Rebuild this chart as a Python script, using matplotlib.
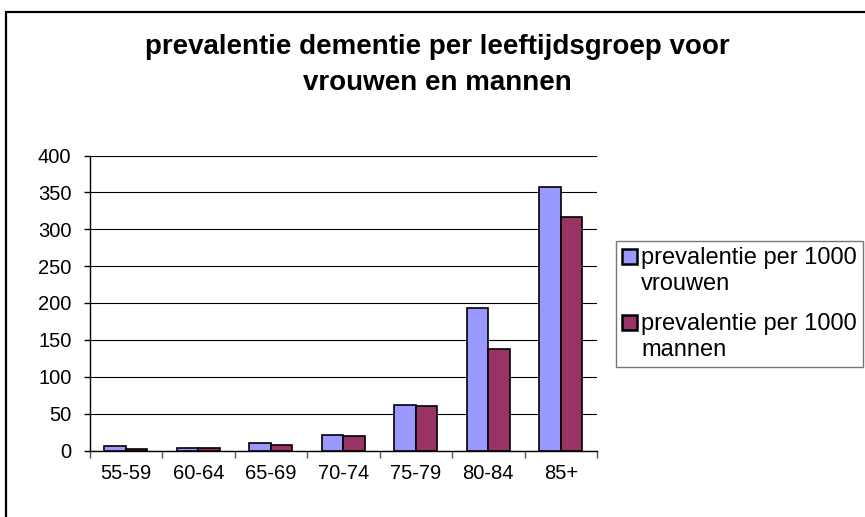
import matplotlib
matplotlib.use("Agg")
import matplotlib.pyplot as plt
import numpy as np
from matplotlib.patches import Rectangle
from matplotlib.container import BarContainer
from matplotlib.legend_handler import HandlerPatch, update_from_first_child

categories = ["55-59", "60-64", "65-69", "70-74", "75-79", "80-84", "85+"]
vrouwen = [6, 4, 10, 21, 62, 193, 357]
mannen = [2, 4, 8, 20, 60, 138, 316]
yticks = [0, 50, 100, 150, 200, 250, 300, 350, 400]

plt.rcParams['font.family'] = ['Liberation Sans', 'DejaVu Sans']

W, H = 865, 517
fig = plt.figure(figsize=(W/100, H/100), dpi=100)
fig.patches.append(Rectangle((6/W, -0.1), 1, 1.1 - 12/H, transform=fig.transFigure,
                             fill=False, edgecolor='black', linewidth=1.6, zorder=0))

ax = fig.add_axes([89.5/W, 1 - 450.5/H, (597-89.5)/W, (450.5-155.5)/H])
x = np.arange(len(categories))
bw = 0.295
ax.bar(x - bw/2, vrouwen, bw, color='#9999FF', edgecolor='black', linewidth=1.2,
       label='prevalentie per 1000\nvrouwen', zorder=3)
ax.bar(x + bw/2, mannen, bw, color='#993366', edgecolor='black', linewidth=1.2,
       label='prevalentie per 1000\nmannen', zorder=3)

ax.set_xlim(-0.5, len(categories) - 0.5)
ax.set_ylim(0, 400)
ax.set_yticks(yticks)
ax.set_yticklabels([str(v) for v in yticks], fontsize=14.5)
ax.set_xticks(x)
ax.set_xticklabels(categories, fontsize=14.5)
ax.tick_params(axis='x', length=0, pad=10)
ax.set_xticks(np.arange(-0.5, len(categories) + 0.5, 1), minor=True)
ax.tick_params(axis='x', which='minor', length=5, width=1, direction='out', color='#555555')
ax.tick_params(axis='y', length=4, width=1, direction='out', pad=9)
ax.yaxis.grid(True, color='black', linewidth=0.8, zorder=0)
ax.set_axisbelow(True)
for s in ['top', 'right']:
    ax.spines[s].set_visible(False)
for s in ['left', 'bottom']:
    ax.spines[s].set_linewidth(1)

fig.text(437.5/W, 1 - 47/H, "prevalentie dementie per leeftijdsgroep voor",
         ha='center', va='center', fontsize=20, fontweight='bold')
fig.text(437.5/W, 1 - 83/H, "vrouwen en mannen",
         ha='center', va='center', fontsize=20, fontweight='bold')


def top_square(legend, orig_handle, xdescent, ydescent, width, height, fontsize):
    return Rectangle((-xdescent, -ydescent + 0.62 * fontsize), width, height)


def upd(legend_handle, orig_handle):
    update_from_first_child(legend_handle, orig_handle)
    legend_handle.set_linewidth(1.8)
    legend_handle.set_edgecolor('black')


leg = ax.legend(loc='upper left', bbox_to_anchor=(616/W, 1 - 241/H), bbox_transform=fig.transFigure,
                fontsize=17, frameon=True, fancybox=False, edgecolor='#555555',
                handlelength=0.62, handleheight=0.62, handletextpad=0.2, borderpad=0.25,
                labelspacing=0.75, borderaxespad=0,
                handler_map={BarContainer: HandlerPatch(patch_func=top_square, update_func=upd)})
leg.get_frame().set_linewidth(1)
for t in leg.get_texts():
    t.set_linespacing(1.25)

fig.savefig("out.png", dpi=100)
